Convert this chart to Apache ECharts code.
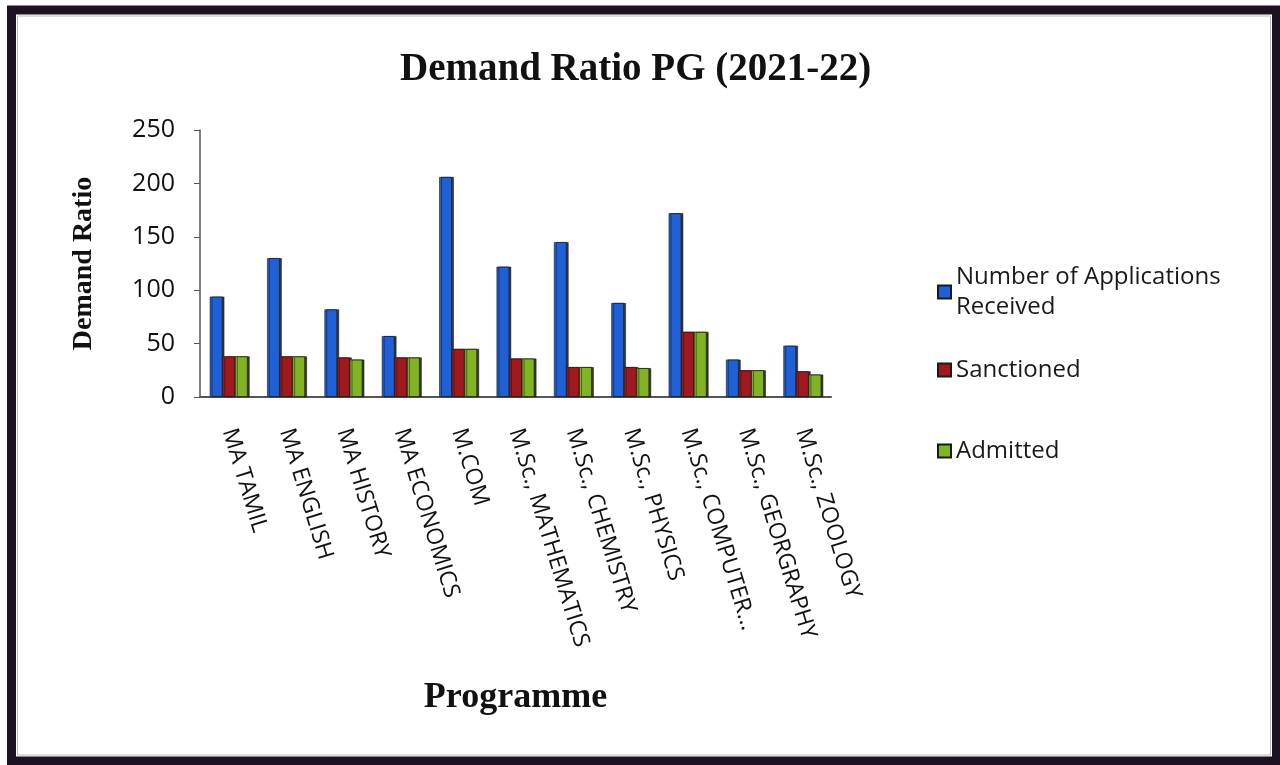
<!DOCTYPE html>
<html>
<head>
<meta charset="utf-8">
<title>Demand Ratio PG (2021-22)</title>
<script src="https://cdn.jsdelivr.net/npm/echarts@6/dist/echarts.min.js"></script>
<style>
  html, body {
    margin: 0;
    padding: 0;
    background: #fff;
  }
  #chart {
    width: 1280px;
    height: 765px;
  }
</style>
</head>
<body>
<div id="chart"></div>
<script>
// programmes on the x axis
const programmes = [
  "MA TAMIL", "MA ENGLISH", "MA HISTORY", "MA ECONOMICS", "M.COM",
  "M.Sc., MATHEMATICS", "M.Sc., CHEMISTRY", "M.Sc., PHYSICS",
  "M.Sc., COMPUTER...", "M.Sc., GEORGRAPHY", "M.Sc., ZOOLOGY"
];
// values
const applications = [94, 130, 82, 57, 206, 122, 145, 88, 172, 35, 48];
const sanctioned = [38, 38, 37, 37, 45, 36, 28, 28, 61, 25, 24];
const admitted = [38, 38, 35, 37, 45, 36, 28, 27, 61, 25, 21];
const yTicks = [0, 50, 100, 150, 200, 250];

const seriesNames = ["Number of Applications\nReceived", "Sanctioned", "Admitted"];
const colors = ["#1f60d6", "#a0191f", "#80b424"];

const serif = "'Liberation Serif', 'Times New Roman', serif";
const sans = "'Open Sans', 'Noto Sans', sans-serif";

const chart = echarts.init(document.getElementById("chart"));

function barSeries(name, data, color) {
  return {
    name: name,
    type: "bar",
    data: data,
    barGap: "0%",
    barCategoryGap: "34%",
    itemStyle: {
      color: color,
      borderColor: "#1a1a1a",
      borderWidth: 0.6,
      shadowColor: "rgba(20, 20, 20, 0.85)",
      shadowOffsetX: 2,
      shadowOffsetY: 0,
      shadowBlur: 0,
    },
  };
}

const legendText = {
  fontFamily: sans,
  fontSize: 24,
  color: "#1a1a1a",
  lineHeight: 30,
};

function legendAt(top, name, textStyle) {
  return {
    orient: "vertical",
    left: 937,
    top: top,
    padding: 0,
    icon: "rect",
    itemWidth: 13,
    itemHeight: 13,
    itemGap: 0,
    selectedMode: false,
    data: [name],
    textStyle: textStyle || legendText,
  };
}

chart.setOption({
  backgroundColor: "#fff",
  animation: false,
  color: colors,
  title: {
    text: "Demand Ratio PG (2021-22)",
    left: 395,
    top: 45,
    textStyle: {
      fontFamily: serif,
      fontWeight: "bold",
      fontSize: 39,
      color: "#111",
    },
  },
  legend: [
    // first entry wraps onto two lines, icon sits by the first line
    legendAt(247, seriesNames[0], Object.assign({}, legendText, { padding: [30, 0, 0, 0] })),
    legendAt(355, seriesNames[1]),
    legendAt(436, seriesNames[2]),
  ],
  grid: {
    left: 200,
    right: 449,
    top: 130,
    bottom: 368,
  },
  xAxis: {
    type: "category",
    data: programmes,
    name: "Programme",
    nameLocation: "middle",
    nameGap: 283,
    nameTextStyle: {
      fontFamily: serif,
      fontWeight: "bold",
      fontSize: 36,
      color: "#111",
    },
    axisLine: {
      lineStyle: { color: "#555", width: 2 },
    },
    axisTick: { show: false },
    axisLabel: {
      interval: 0,
      rotate: -73,
      margin: 32,
      fontFamily: sans,
      fontSize: 23,
      color: "#111",
    },
  },
  yAxis: {
    type: "value",
    min: 0,
    max: 250,
    interval: 50,
    name: "Demand Ratio",
    nameLocation: "middle",
    nameGap: 102,
    nameTextStyle: {
      fontFamily: serif,
      fontWeight: "bold",
      fontSize: 28,
      color: "#111",
    },
    axisLine: {
      show: true,
      lineStyle: { color: "#555", width: 1.5 },
    },
    axisTick: {
      show: true,
      length: 6,
      lineStyle: { color: "#555" },
    },
    splitLine: { show: false },
    axisLabel: {
      margin: 25,
      fontFamily: sans,
      fontSize: 25,
      color: "#111",
      customValues: yTicks,
    },
  },
  graphic: [
    {
      type: "rect",
      silent: true,
      shape: { x: 11.5, y: 10, width: 1265, height: 751 },
      style: { fill: null, stroke: "#1c1222", lineWidth: 9 },
      z: 100,
    },
    {
      type: "rect",
      silent: true,
      shape: { x: 17.5, y: 16, width: 1253, height: 739 },
      style: { fill: null, stroke: "#bbb", lineWidth: 1 },
      z: 100,
    },
  ],
  series: [
    barSeries(seriesNames[0], applications, colors[0]),
    barSeries(seriesNames[1], sanctioned, colors[1]),
    barSeries(seriesNames[2], admitted, colors[2]),
  ],
});
</script>
</body>
</html>
